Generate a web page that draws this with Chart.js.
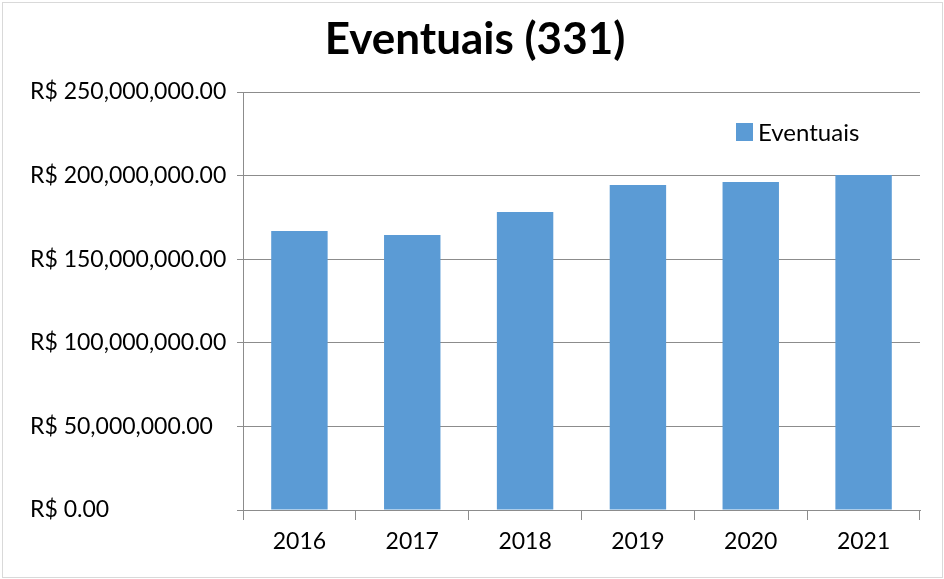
<!DOCTYPE html>
<html>
<head>
<meta charset="utf-8">
<script src="https://cdn.jsdelivr.net/npm/chart.js@4"></script>
<style>
    html, body { margin: 0; padding: 0; background: #fff; }
    #wrap { width: 944px; height: 579px; position: relative; }
</style>
</head>
<body>
<div id="wrap"><canvas id="chart"></canvas></div>
<script>
// Chart data
const years = ['2016', '2017', '2018', '2019', '2020', '2021'];
const eventuais = [166900000, 164500000, 178200000, 194400000, 196200000, 200400000];
const seriesLabel = 'Eventuais';
const chartTitle = 'Eventuais (331)';

const FONT = 'Lato, "Open Sans", sans-serif';
const BAR = '#5B9BD5';
const GRID = '#8c8c8c';

// Format like "R$ 250,000,000.00"
function money(v) {
    return 'R$ ' + Number(v).toLocaleString('en-US', { minimumFractionDigits: 2, maximumFractionDigits: 2 });
}

// Outer border, title and legend (legend sits inside the plot area)
const decor = {
    id: 'decor',
    afterDraw(chart) {
        const ctx = chart.ctx;
        ctx.save();
        ctx.strokeStyle = '#d9d9d9';
        ctx.lineWidth = 1;
        ctx.strokeRect(2.5, 2.5, chart.width - 4, chart.height - 4);

        ctx.fillStyle = '#000';
        ctx.font = 'bold 44px ' + FONT;
        ctx.textAlign = 'center';
        ctx.textBaseline = 'middle';
        ctx.fillText(chartTitle, 475, 40);

        const ds = chart.data.datasets[0];
        ctx.fillStyle = ds.backgroundColor;
        ctx.fillRect(736, 123, 17, 18);
        ctx.fillStyle = '#000';
        ctx.font = '24px ' + FONT;
        ctx.textAlign = 'left';
        ctx.fillText(ds.label, 758, 133);
        ctx.restore();
    }
};

new Chart(document.getElementById('chart'), {
    type: 'bar',
    data: {
        labels: years,
        datasets: [{
            label: seriesLabel,
            data: eventuais,
            backgroundColor: BAR,
            barPercentage: 0.5,
            categoryPercentage: 1.0
        }]
    },
    options: {
        responsive: true,
        maintainAspectRatio: false,
        animation: false,
        layout: { padding: { left: 30, right: 24, top: 92, bottom: 0 } },
        plugins: {
            legend: { display: false },
            tooltip: { enabled: false },
            title: { display: false }
        },
        scales: {
            x: {
                grid: {
                    offset: true,
                    drawOnChartArea: false,
                    color: GRID,
                    tickLength: 10
                },
                border: { color: GRID },
                ticks: {
                    color: '#000',
                    font: { family: FONT, size: 23 },
                    padding: 8
                },
                afterFit: s => { s.height = 69; }
            },
            y: {
                min: 0,
                max: 250000000,
                ticks: {
                    stepSize: 50000000,
                    color: '#000',
                    font: { family: FONT, size: 23 },
                    crossAlign: 'far',
                    padding: 6,
                    callback: v => money(v)
                },
                grid: { color: GRID, tickLength: 6 },
                border: { color: GRID },
                afterFit: s => { s.width = 213; }
            }
        }
    },
    plugins: [decor]
});
</script>
</body>
</html>
